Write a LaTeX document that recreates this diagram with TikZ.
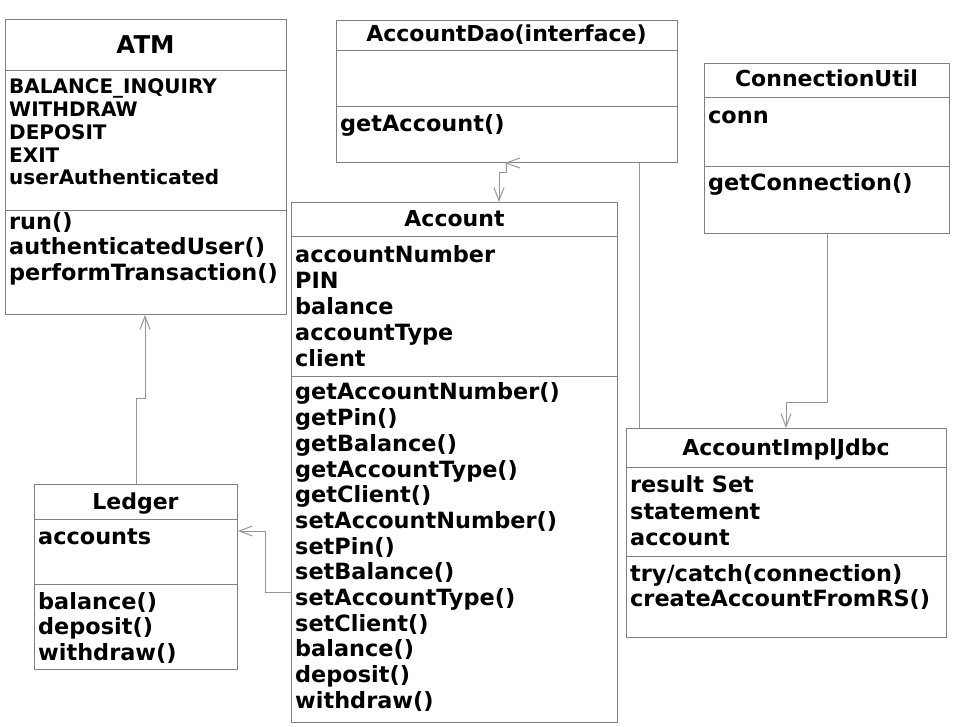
\documentclass[tikz,border=0pt]{standalone}
\usepackage{fontspec}
\setmainfont{DejaVu Sans}
\usetikzlibrary{arrows.meta}
\definecolor{boxgray}{RGB}{128,128,128}
\definecolor{linegray}{RGB}{150,150,150}
\tikzset{
  cls/.style={draw=boxgray, line width=1pt, inner sep=0pt, anchor=north west},
  div/.style={draw=boxgray, line width=1pt},
  conn/.style={draw=linegray, line width=1pt},
  arr/.style={-{Straight Barb[length=13pt,width=10pt]}},
  ttl/.style={inner sep=0pt, anchor=base, font=\bfseries\fontsize{22}{24}\selectfont},
  txt/.style={inner sep=0pt, anchor=base west, font=\bfseries\fontsize{22.4}{26}\selectfont},
  stxt/.style={inner sep=0pt, anchor=base west, font=\bfseries\fontsize{20}{23}\selectfont},
}
\begin{document}
\begin{tikzpicture}[x=1pt,y=-1pt]
\useasboundingbox[fill=white] (0,0) rectangle (954,727);

% ATM
\node[cls, minimum width=281pt, minimum height=295pt] (atm) at (5,19) {};
\draw[div] (5,71) -- (286,71);
\draw[div] (5,211) -- (286,211);
\node[ttl, font=\bfseries\fontsize{24.5}{28}\selectfont] (atmT) at (145.5,54) {ATM};
\foreach \t [count=\i from 0] in {BALANCE\_INQUIRY, WITHDRAW, DEPOSIT, EXIT, userAuthenticated}
  \node[stxt] (atmA\i) at (9, 94+22.75*\i) {\t};
\foreach \t [count=\i from 0] in {run(), authenticatedUser(), performTransaction()}
  \node[txt] (atmM\i) at (9, 229.5+25.5*\i) {\t};

% AccountDao
\node[cls, minimum width=341pt, minimum height=142pt] (dao) at (336,20) {};
\draw[div] (336,51) -- (677,51);
\draw[div] (336,107) -- (677,107);
\node[ttl] (daoT) at (506.5,42) {AccountDao(interface)};
\node[txt] (daoM0) at (340,132) {getAccount()};

% ConnectionUtil
\node[cls, minimum width=245pt, minimum height=170pt] (cu) at (704,63) {};
\draw[div] (704,98) -- (949,98);
\draw[div] (704,167) -- (949,167);
\node[ttl] (cuT) at (826.5,87) {ConnectionUtil};
\node[txt] (cuA0) at (708,124) {conn};
\node[txt] (cuM0) at (708,191) {getConnection()};

% Account
\node[cls, minimum width=326pt, minimum height=520pt] (acc) at (291,202) {};
\draw[div] (291,237) -- (617,237);
\draw[div] (291,377) -- (617,377);
\node[ttl] (accT) at (454.5,227) {Account};
\foreach \t [count=\i from 0] in {accountNumber, PIN, balance, accountType, client}
  \node[txt] (accA\i) at (295, 263+25.8*\i) {\t};
\foreach \t [count=\i from 0] in {getAccountNumber(), getPin(), getBalance(), getAccountType(), getClient(), setAccountNumber(), setPin(), setBalance(), setAccountType(), setClient(), balance(), deposit(), withdraw()}
  \node[txt] (accM\i) at (295, 400+25.67*\i) {\t};

% AccountImplJdbc
\node[cls, minimum width=320pt, minimum height=209pt] (impl) at (626,428) {};
\draw[div] (626,468) -- (946,468);
\draw[div] (626,556) -- (946,556);
\node[ttl] (implT) at (786,456) {AccountImplJdbc};
\foreach \t [count=\i from 0] in {result Set, statement, account}
  \node[txt] (implA\i) at (630, 493+26*\i) {\t};
\foreach \t [count=\i from 0] in {try/catch(connection), createAccountFromRS()}
  \node[txt] (implM\i) at (630, 581+25*\i) {\t};

% Ledger
\node[cls, minimum width=203pt, minimum height=185pt] (led) at (34,484) {};
\draw[div] (34,519) -- (237,519);
\draw[div] (34,584) -- (237,584);
\node[ttl] (ledT) at (135.5,509) {Ledger};
\node[txt] (ledA0) at (38,544) {accounts};
\foreach \t [count=\i from 0] in {balance(), deposit(), withdraw()}
  \node[txt] (ledM\i) at (38, 609+25.5*\i) {\t};

% Connectors
\coordinate (daoP) at (506,0 |- dao.south);
\draw[conn, arr] (daoP) -- ++(0,10) -| (499,0 |- acc.north);
\draw[conn] ([shift={(14,-5)}]daoP) -- (daoP) -- ([shift={(14,5)}]daoP);
\draw[conn, arr] (136,0 |- led.north) |- (145,399) -- (145,0 |- atm.south);
\draw[conn, arr] (acc.west |- 0,592) -| (265,531) -- (led.east |- 0,531);
\draw[conn] (639,0 |- dao.south) -- (639,0 |- impl.north);
\draw[conn, arr] (827,0 |- cu.south) |- (786,403) -- (786,0 |- impl.north);
\end{tikzpicture}
\end{document}
